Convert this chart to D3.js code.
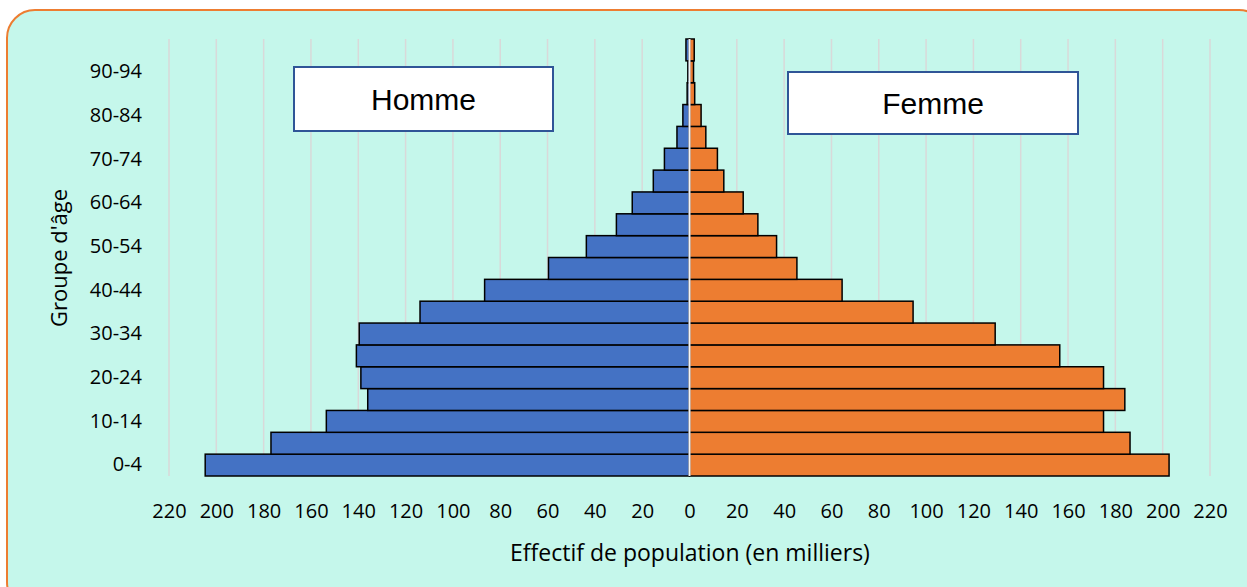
<!DOCTYPE html>
<html>
<head>
<meta charset="utf-8">
<script src="https://cdn.jsdelivr.net/npm/d3@7"></script>
<style>
  html, body { margin: 0; padding: 0; background: #fff; }
  svg { display: block; }
</style>
</head>
<body>
<svg id="chart"></svg>
<script>
// groupes d'âge, du plus jeune au plus vieux
const groupes = ['0-4', '5-9', '10-14', '15-19', '20-24', '25-29', '30-34', '35-39',
                 '40-44', '45-49', '50-54', '55-59', '60-64', '65-69', '70-74',
                 '75-79', '80-84', '85-89', '90-94', '95+']
// effectifs en milliers
const hommes = [204.7, 176.9, 153.5, 136.0, 138.9, 140.8, 139.6, 113.9, 86.6, 59.6,
                43.6, 30.9, 24.2, 15.3, 10.6, 5.3, 2.8, 1.0, 0.7, 1.5]
const femmes = [202.7, 186.2, 175.0, 184.0, 175.0, 156.5, 129.2, 94.5, 64.5, 45.4,
                36.8, 28.9, 22.7, 14.5, 11.8, 6.9, 4.9, 2.2, 1.7, 2.0]
const ticksX = d3.range(-220, 221, 20)
const groupesAffiches = groupes.filter((g, i) => i % 2 === 0 && i < 19)

const width = 1247
const height = 587
const plotTop = 39
const plotBottom = 476
const police = '"Open Sans", sans-serif'

const svg = d3.select('#chart').attr('width', width).attr('height', height)

// cadre arrondi
svg.append('rect')
    .attr('x', 7).attr('y', 10)
    .attr('width', 1260).attr('height', 600)
    .attr('rx', 28)
    .attr('fill', '#c5f7eb')
    .attr('stroke', '#ed7d31')
    .attr('stroke-width', 2)

const x = d3.scaleLinear().domain([-220, 220]).range([169, 1210])
const y = d3.scaleBand().domain(groupes).range([plotBottom, plotTop]).padding(0)

// grille verticale
svg.append('g').selectAll('line').data(ticksX).enter()
    .append('line')
    .attr('x1', d => x(d)).attr('x2', d => x(d))
    .attr('y1', plotTop).attr('y2', plotBottom)
    .attr('stroke', '#d9d9d9')
    .attr('stroke-width', 1.5)

// barres hommes
svg.append('g').selectAll('rect').data(groupes).enter()
    .append('rect')
    .attr('x', (g, i) => x(-hommes[i]))
    .attr('y', g => y(g))
    .attr('width', (g, i) => x(0) - x(-hommes[i]))
    .attr('height', y.bandwidth())
    .attr('fill', '#4472c4')
    .attr('stroke', '#000')
    .attr('stroke-width', 1.5)

// barres femmes
svg.append('g').selectAll('rect').data(groupes).enter()
    .append('rect')
    .attr('x', x(0))
    .attr('y', g => y(g))
    .attr('width', (g, i) => x(femmes[i]) - x(0))
    .attr('height', y.bandwidth())
    .attr('fill', '#ed7d31')
    .attr('stroke', '#000')
    .attr('stroke-width', 1.5)

// axe central
svg.append('line')
    .attr('x1', x(0)).attr('x2', x(0))
    .attr('y1', plotTop).attr('y2', plotBottom)
    .attr('stroke', '#f4f4f4')
    .attr('stroke-width', 2)

// axe des x
const axeX = svg.append('g')
    .attr('transform', `translate(0, ${plotBottom})`)
    .call(d3.axisBottom(x).tickValues(ticksX).tickFormat(d => Math.abs(d)).tickSize(0).tickPadding(28))
axeX.select('.domain').remove()
axeX.selectAll('text')
    .attr('font-family', police)
    .attr('font-size', 20)
    .attr('fill', '#000')

// axe des y
const axeY = svg.append('g')
    .attr('transform', 'translate(142, 0)')
    .call(d3.axisLeft(y).tickValues(groupesAffiches).tickSize(0).tickPadding(0))
axeY.select('.domain').remove()
axeY.selectAll('text')
    .attr('font-family', police)
    .attr('font-size', 20)
    .attr('fill', '#000')

// titres des axes
svg.append('text')
    .attr('x', 690).attr('y', 561)
    .attr('text-anchor', 'middle')
    .attr('font-family', police)
    .attr('font-size', 23)
    .text('Effectif de population (en milliers)')

svg.append('text')
    .attr('transform', 'translate(67, 258) rotate(-90)')
    .attr('text-anchor', 'middle')
    .attr('font-family', police)
    .attr('font-size', 22)
    .text("Groupe d'âge")

// étiquettes Homme / Femme
const boites = [
    { label: 'Homme', x0: 294, y0: 67, w: 259, h: 64 },
    { label: 'Femme', x0: 788, y0: 72, w: 290, h: 62 },
]
const b = svg.append('g').selectAll('g').data(boites).enter().append('g')
b.append('rect')
    .attr('x', d => d.x0).attr('y', d => d.y0)
    .attr('width', d => d.w).attr('height', d => d.h)
    .attr('fill', '#fff')
    .attr('stroke', '#2f5597')
    .attr('stroke-width', 2)
b.append('text')
    .attr('x', d => d.x0 + d.w / 2)
    .attr('y', d => d.y0 + d.h / 2 + 11)
    .attr('text-anchor', 'middle')
    .attr('font-family', 'Liberation Sans, Arial, sans-serif')
    .attr('font-size', 30)
    .text(d => d.label)
</script>
</body>
</html>
